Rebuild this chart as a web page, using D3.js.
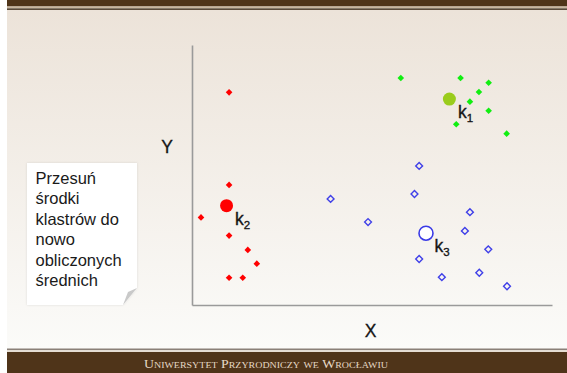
<!DOCTYPE html>
<html><head><meta charset="utf-8">
<script src="https://cdn.jsdelivr.net/npm/d3@7/dist/d3.min.js"></script>
<style>html,body{margin:0;padding:0;background:#fff;}svg{display:block;}</style>
</head><body>
<script>
// ---- data (arbitrary X/Y units 0..100) ----
const redX   = [10.3, 10.3, 2.5, 10.3, 15.5, 18.0, 10.3, 14.1];
const redY   = [81.8, 46.2, 33.7, 26.7, 21.2, 15.9, 10.5, 10.5];
const greenX = [58.0, 74.6, 82.4, 79.7, 77.2, 82.4, 73.4, 87.4];
const greenY = [87.3, 87.3, 85.5, 81.9, 78.2, 74.7, 69.5, 65.9];
const blueX  = [63.1, 38.5, 61.8, 77.2, 48.9, 75.8, 82.3, 63.1, 79.8, 69.4, 87.5];
const blueY  = [53.5, 40.8, 42.7, 35.7, 31.9, 28.5, 21.4, 17.7, 12.4, 10.7, 7.2];
const centroidNames = ["1", "2", "3"];
const centroidX = [71.5, 9.6, 65.0];
const centroidY = [79.2, 38.2, 27.6];
const boxLines = ["Przesuń", "środki", "klastrów do", "nowo", "obliczonych", "średnich"];
const footerText = "Uniwersytet Przyrodniczy we Wrocławiu";
const xLabel = "X", yLabel = "Y";

const W = 567, H = 373;
const svg = d3.select("body").append("svg").attr("width", W).attr("height", H);
const defs = svg.append("defs");
const bg = defs.append("linearGradient").attr("id","bg").attr("x1",0).attr("y1",0).attr("x2",0).attr("y2",1);
bg.append("stop").attr("offset","0%").attr("stop-color","#ece3d9");
bg.append("stop").attr("offset","100%").attr("stop-color","#fbfbf9");
const sh = defs.append("filter").attr("id","sh").attr("x","-10%").attr("y","-10%").attr("width","130%").attr("height","130%");
sh.append("feDropShadow").attr("dx",0).attr("dy",0).attr("stdDeviation",1.2).attr("flood-color","#000").attr("flood-opacity",0.12);

// background
svg.append("rect").attr("x",0).attr("y",0).attr("width",W).attr("height",H).attr("fill","#fff");
svg.append("rect").attr("x",7).attr("y",10).attr("width",W-7).attr("height",339).attr("fill","url(#bg)");
// top band
svg.append("rect").attr("x",7).attr("y",0).attr("width",W-7).attr("height",6.5).attr("fill","#4f3419");
svg.append("rect").attr("x",7).attr("y",6.5).attr("width",W-7).attr("height",1.8).attr("fill","#c9b69e");
svg.append("rect").attr("x",7).attr("y",8.3).attr("width",W-7).attr("height",1.7).attr("fill","#5a4a3a");
// bottom band
svg.append("rect").attr("x",7).attr("y",348.5).attr("width",W-7).attr("height",1.8).attr("fill","#8a8078");
svg.append("rect").attr("x",7).attr("y",350.3).attr("width",W-7).attr("height",1.7).attr("fill","#e6ddd2");
svg.append("rect").attr("x",7).attr("y",352).attr("width",W-7).attr("height",21).attr("fill","#4f3419");
svg.append("text").attr("x",266).attr("y",368)
  .attr("text-anchor","middle")
  .attr("font-family","Liberation Serif, DejaVu Serif, serif")
  .attr("font-size",12.5).style("font-variant","small-caps")
  .attr("fill","#e6d9c6").attr("textLength",244).attr("lengthAdjust","spacingAndGlyphs")
  .text(footerText);

// scales
const x = d3.scaleLinear().domain([0,100]).range([192,552]);
const y = d3.scaleLinear().domain([0,100]).range([305,45]);

// axes (plain lines, no ticks)
const ax = svg.append("g");
ax.append("g").attr("transform",`translate(0,${y(0)})`)
  .call(d3.axisBottom(x).ticks(0).tickSize(0).tickFormat(""))
  .call(g=>g.select(".domain").attr("stroke","#9a9a9a").attr("stroke-width",1.6));
ax.append("g").attr("transform",`translate(${x(0)},0)`)
  .call(d3.axisLeft(y).ticks(0).tickSize(0).tickFormat(""))
  .call(g=>g.select(".domain").attr("stroke","#9a9a9a").attr("stroke-width",1.6));

svg.append("text").attr("x",167).attr("y",152.5).attr("text-anchor","middle")
  .attr("font-family","Liberation Sans, Arial, sans-serif").attr("font-size",17.5).attr("fill","#151515")
  .attr("stroke","#151515").attr("stroke-width",0.3).text(yLabel);
svg.append("text").attr("x",370.5).attr("y",337).attr("text-anchor","middle")
  .attr("font-family","Liberation Sans, Arial, sans-serif").attr("font-size",17.5).attr("fill","#151515")
  .attr("stroke","#151515").attr("stroke-width",0.3).text(xLabel);

const diamond = d3.symbol().type(d3.symbolDiamond2);
function pts(xs, ys){ return xs.map((v,i)=>({x:v,y:ys[i]})); }

svg.append("g").selectAll("path").data(pts(redX,redY)).join("path")
  .attr("transform",d=>`translate(${x(d.x)},${y(d.y)})`)
  .attr("d",diamond.size(28)).attr("fill","#ff0000");
svg.append("g").selectAll("path").data(pts(greenX,greenY)).join("path")
  .attr("transform",d=>`translate(${x(d.x)},${y(d.y)})`)
  .attr("d",diamond.size(28)).attr("fill","#11ee11");
svg.append("g").selectAll("path").data(pts(blueX,blueY)).join("path")
  .attr("transform",d=>`translate(${x(d.x)},${y(d.y)})`)
  .attr("d",diamond.size(30)).attr("fill","none").attr("stroke","#4040e8").attr("stroke-width",1.4);

// centroids
const cFill = ["#9acc1c", "#ff0000", "#ffffff"];
const cStroke = ["none", "none", "#3a3ae6"];
const cR = [6.5, 6.5, 7];
const cg = svg.append("g").selectAll("g").data(centroidNames.map((n,i)=>({n, x:centroidX[i], y:centroidY[i], i}))).join("g")
  .attr("transform",d=>`translate(${x(d.x)},${y(d.y)})`);
cg.append("circle").attr("r",d=>cR[d.i]).attr("fill",d=>cFill[d.i]).attr("stroke",d=>cStroke[d.i]).attr("stroke-width",1.6);
const lbl = cg.append("text").attr("x",8.5).attr("y",19)
  .attr("font-family","Liberation Sans, Arial, sans-serif").attr("font-size",17.5).attr("fill","#151515")
  .attr("stroke","#151515").attr("stroke-width",0.35);
lbl.append("tspan").text("k");
lbl.append("tspan").attr("font-size",11.5).attr("dy",4).text(d=>d.n);

// text box with folded corner
const bx0 = 27, by0 = 163, bx1 = 137, by1 = 305;
svg.append("path").attr("filter","url(#sh)")
  .attr("d",`M${bx0},${by0}H${bx1}V${by1-17}L${bx1-14},${by1}H${bx0}Z`).attr("fill","#ffffff");
svg.append("path").attr("d",`M${bx1},${by1-17}L${bx1-14},${by1}L${bx1-9},${by1-13}Z`).attr("fill","#c9c9c9");
svg.append("g").selectAll("text").data(boxLines).join("text")
  .attr("x",35.5).attr("y",(d,i)=>184+i*20.4)
  .attr("font-family","Liberation Sans, Arial, sans-serif").attr("font-size",16.5).attr("fill","#1a1a1a")
  .text(d=>d);
</script>
</body></html>
